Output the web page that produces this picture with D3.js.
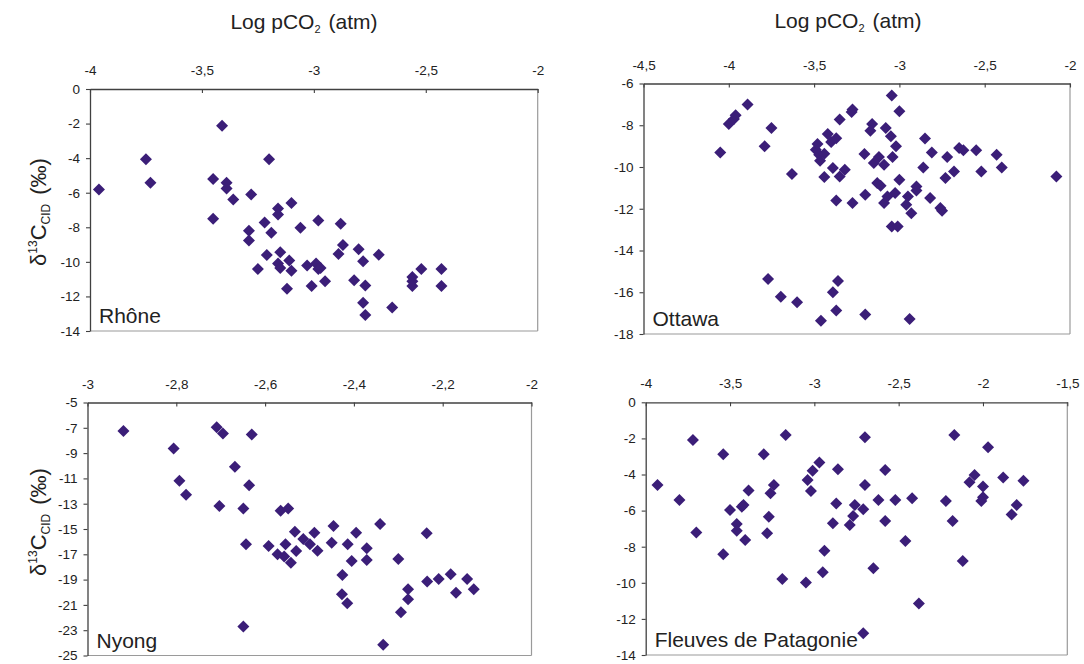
<!DOCTYPE html>
<html><head><meta charset="utf-8">
<script src="https://cdn.jsdelivr.net/npm/d3@7"></script>
<style>
body{margin:0;background:#fff}
svg{display:block;font-family:"Liberation Sans",Arial,Helvetica,sans-serif}
</style>
</head><body>
<svg id="chart" width="1084" height="664"></svg>
<script>
// ---------- DATA ----------
const rhoneLogPCO2 = [-3.96,-3.75,-3.73,-3.41,-3.20,-3.45,-3.39,-3.39,-3.36,-3.28,-3.45,-3.16,-3.16,-3.10,-3.22,-3.29,-3.29,-3.19,-3.06,-2.98,-2.88,-3.21,-3.15,-3.11,-3.25,-3.16,-3.15,-3.10,-3.12,-3.03,-2.99,-2.98,-2.97,-3.01,-2.95,-2.89,-2.87,-2.80,-2.78,-2.71,-2.82,-2.77,-2.78,-2.77,-2.65,-2.56,-2.56,-2.56,-2.52,-2.43,-2.43];
const rhoneD13C    = [-5.81,-4.07,-5.42,-2.12,-4.07,-5.21,-5.42,-5.75,-6.39,-6.10,-7.51,-6.91,-7.26,-6.60,-7.72,-8.20,-8.76,-8.32,-8.03,-7.61,-7.80,-9.61,-9.44,-9.92,-10.42,-10.10,-10.35,-10.52,-11.56,-10.21,-10.10,-10.42,-10.35,-11.39,-11.12,-9.54,-9.03,-9.27,-9.96,-9.59,-11.06,-11.37,-12.37,-13.07,-12.64,-10.87,-11.12,-11.39,-10.42,-10.42,-11.39];

const ottawaLogPCO2 = [-4.05,-4.00,-3.97,-3.96,-3.89,-3.75,-3.79,-3.63,-3.49,-3.48,-3.47,-3.465,-3.44,-3.42,-3.40,-3.37,-3.39,-3.44,-3.35,-3.32,-3.35,-3.28,-3.275,-3.37,-3.275,-3.205,-3.20,-3.16,-3.17,-3.15,-3.12,-3.13,-3.11,-3.08,-3.09,-3.09,-3.07,-3.045,-3.05,-3.04,-3.025,-3.045,-3.02,-3.01,-3.00,-3.00,-2.95,-2.96,-2.93,-2.90,-2.90,-2.85,-2.86,-2.82,-2.81,-2.76,-2.75,-2.72,-2.73,-2.68,-2.65,-2.625,-2.55,-2.52,-2.43,-2.40,-2.08,-3.77,-3.695,-3.60,-3.46,-3.39,-3.36,-3.37,-3.20,-2.94];
const ottawaD13C    = [-9.30,-7.94,-7.70,-7.52,-7.01,-8.13,-9.01,-10.34,-9.17,-8.90,-9.41,-9.70,-9.36,-8.42,-8.80,-8.62,-10.05,-10.48,-10.45,-10.13,-7.73,-7.36,-7.25,-11.60,-11.73,-9.38,-11.33,-7.94,-8.26,-9.81,-9.52,-10.77,-10.90,-8.13,-9.89,-11.73,-11.41,-6.58,-8.53,-9.52,-11.25,-12.85,-9.01,-12.85,-7.33,-10.61,-11.41,-11.81,-12.21,-10.93,-11.12,-8.64,-10.02,-11.49,-9.30,-11.97,-12.10,-9.52,-10.53,-10.21,-9.09,-9.20,-9.20,-10.22,-9.41,-10.02,-10.45,-15.36,-16.21,-16.48,-17.36,-16.00,-15.46,-16.88,-17.06,-17.28];

const nyongLogPCO2 = [-2.919,-2.709,-2.695,-2.630,-2.806,-2.668,-2.793,-2.636,-2.778,-2.703,-2.649,-2.565,-2.548,-2.533,-2.514,-2.499,-2.489,-2.482,-2.446,-2.450,-2.414,-2.395,-2.405,-2.371,-2.371,-2.341,-2.643,-2.592,-2.572,-2.554,-2.557,-2.542,-2.530,-2.426,-2.427,-2.415,-2.300,-2.294,-2.278,-2.278,-2.236,-2.235,-2.209,-2.182,-2.170,-2.145,-2.130,-2.649,-2.334];
const nyongD13C    = [-7.26,-6.95,-7.45,-7.53,-8.63,-10.08,-11.18,-11.55,-12.29,-13.18,-13.37,-13.55,-13.37,-15.21,-15.79,-16.21,-15.29,-16.71,-14.76,-16.08,-16.21,-15.29,-17.53,-16.53,-17.45,-14.61,-16.21,-16.34,-17.00,-16.21,-17.18,-17.66,-16.74,-18.63,-20.16,-20.87,-17.37,-21.58,-19.76,-20.55,-15.34,-19.16,-18.95,-18.58,-20.03,-18.95,-19.76,-22.71,-24.16];

const patagLogPCO2 = [-3.93,-3.80,-3.72,-3.70,-3.54,-3.54,-3.50,-3.46,-3.46,-3.43,-3.42,-3.41,-3.39,-3.30,-3.24,-3.26,-3.27,-3.28,-3.17,-3.19,-3.05,-3.04,-3.01,-3.02,-2.97,-2.95,-2.94,-2.89,-2.87,-2.86,-2.79,-2.77,-2.76,-2.71,-2.70,-2.70,-2.71,-2.65,-2.62,-2.58,-2.58,-2.52,-2.46,-2.42,-2.38,-2.22,-2.18,-2.17,-2.12,-2.08,-2.05,-2.00,-2.00,-2.01,-1.97,-1.88,-1.83,-1.80,-1.76];
const patagD13C    = [-4.58,-5.41,-2.09,-7.22,-2.88,-8.42,-5.97,-6.74,-7.11,-5.78,-5.69,-7.63,-4.89,-2.88,-4.58,-5.04,-6.34,-7.26,-1.81,-9.79,-9.99,-4.30,-3.79,-4.91,-3.34,-9.42,-8.22,-6.70,-5.60,-3.71,-6.80,-6.30,-5.69,-5.93,-1.94,-4.58,-12.80,-9.20,-5.41,-3.75,-6.58,-5.41,-7.68,-5.32,-11.14,-5.47,-6.58,-1.81,-8.79,-4.43,-4.03,-4.67,-5.26,-5.47,-2.49,-4.16,-6.21,-5.69,-4.34];

const rhoneXTicks  = [-4,-3.5,-3,-2.5,-2];
const rhoneYTicks  = [0,-2,-4,-6,-8,-10,-12,-14];
const ottawaXTicks = [-4.5,-4,-3.5,-3,-2.5,-2];
const ottawaYTicks = [-6,-8,-10,-12,-14,-16,-18];
const nyongXTicks  = [-3,-2.8,-2.6,-2.4,-2.2,-2];
const nyongYTicks  = [-5,-7,-9,-11,-13,-15,-17,-19,-21,-23,-25];
const patagXTicks  = [-4,-3.5,-3,-2.5,-2,-1.5];
const patagYTicks  = [0,-2,-4,-6,-8,-10,-12,-14];

const panelNames = ["Rhône","Ottawa","Nyong","Fleuves de Patagonie"];
const xTitle = "Log pCO";

// ---------- LAYOUT ----------
const markerColor = "#3b1e78";
const svg = d3.select("#chart");
const fmt = v => String(v).replace(".", ",");

const panels = [
  {name:panelNames[0], xs:rhoneLogPCO2, ys:rhoneD13C, xt:rhoneXTicks, yt:rhoneYTicks, box:[90,89,537.7,331]},
  {name:panelNames[1], xs:ottawaLogPCO2, ys:ottawaD13C, xt:ottawaXTicks, yt:ottawaYTicks, box:[643.5,83.5,1070,334]},
  {name:panelNames[2], xs:nyongLogPCO2, ys:nyongD13C, xt:nyongXTicks, yt:nyongYTicks, box:[87.5,402.5,531.5,655.5]},
  {name:panelNames[3], xs:patagLogPCO2, ys:patagD13C, xt:patagXTicks, yt:patagYTicks, box:[645.7,402.3,1067.3,655]}
];

const diamond = s => `M0,${-s}L${s},0L0,${s}L${-s},0Z`;

panels.forEach(p => {
  const [l,t,r,b] = p.box;
  const x = d3.scaleLinear().domain(d3.extent(p.xt)).range([l,r]);
  const y = d3.scaleLinear().domain([d3.max(p.yt), d3.min(p.yt)]).range([t,b]);
  const g = svg.append("g");

  // frame: right & bottom grey
  g.append("line").attr("x1",r).attr("x2",r).attr("y1",t).attr("y2",b).attr("stroke","#9a9a9a").attr("stroke-width",1.2);
  g.append("line").attr("x1",l).attr("x2",r).attr("y1",b).attr("y2",b).attr("stroke","#9a9a9a").attr("stroke-width",1.2);

  const ax = g.append("g").attr("transform",`translate(0,${t})`)
    .call(d3.axisTop(x).tickValues(p.xt).tickFormat(fmt).tickSize(-4).tickSizeOuter(0).tickPadding(14));
  const ay = g.append("g").attr("transform",`translate(${l},0)`)
    .call(d3.axisLeft(y).tickValues(p.yt).tickFormat(fmt).tickSize(4).tickSizeOuter(0).tickPadding(6));
  [ax,ay].forEach(a => {
    a.select(".domain").attr("stroke","#404040").attr("stroke-width",1.3);
    a.selectAll(".tick line").attr("stroke","#404040").attr("stroke-width",1.1);
    a.selectAll(".tick text").attr("fill","#222").style("font-size","13.5px").style("font-family","'Liberation Sans',Arial,sans-serif");
  });

  // points
  g.append("g").selectAll("path").data(p.xs.map((v,i)=>[v,p.ys[i]])).join("path")
    .attr("d", diamond(6))
    .attr("transform", d => `translate(${x(d[0])},${y(d[1])})`)
    .attr("fill", markerColor);

  // panel label
  g.append("text").attr("x", l+9).attr("y", b-8)
    .attr("fill","#222").style("font-size","21px").text(p.name);
});

// x titles
[[304,29],[848,28]].forEach(([cx,cy]) => {
  const tx = svg.append("text").attr("x",cx).attr("y",cy).attr("text-anchor","middle")
    .attr("fill","#222").style("font-size","21px");
  tx.append("tspan").text(xTitle);
  tx.append("tspan").attr("dy",4).style("font-size","11px").text("2");
  tx.append("tspan").attr("dy",-4).attr("dx",8).text("(atm)");
});

// y titles
[[46,212],[46,522]].forEach(([cx,cy]) => {
  const ty = svg.append("text").attr("transform",`translate(${cx},${cy}) rotate(-90)`)
    .attr("text-anchor","middle").attr("fill","#222").style("font-size","22px");
  ty.append("tspan").text("δ");
  ty.append("tspan").attr("dy",-9).style("font-size","12px").text("13");
  ty.append("tspan").attr("dy",9).text("C");
  ty.append("tspan").attr("dy",4).style("font-size","12px").text("CID");
  ty.append("tspan").attr("dy",-4).attr("dx",9).text("(‰)");
});
</script>
</body></html>
